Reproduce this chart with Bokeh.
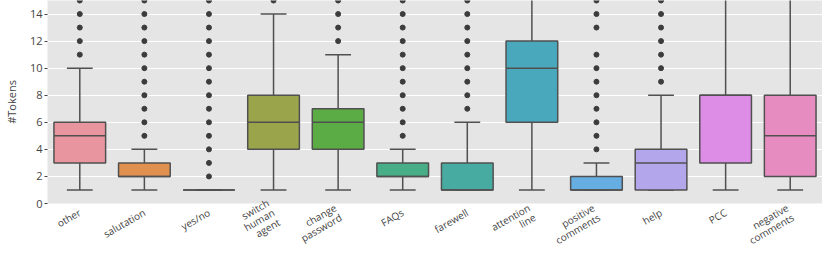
from bokeh.plotting import figure
from bokeh.models import ColumnDataSource, FactorRange, FixedTicker
from bokeh.transform import dodge
from bokeh.embed import file_html
from bokeh.resources import INLINE

categories = ["other", "salutation", "yes/no", "switch\nhuman\nagent", "change\npassword",
              "FAQs", "farewell", "attention\nline", "positive\ncomments", "help", "PCC",
              "negative\ncomments"]
lower_whisker = [1, 1, 1, 1, 1, 1, 1, 1, 1, 1, 1, 1]
q1 = [3, 2, 1, 4, 4, 2, 1, 6, 1, 1, 3, 2]
median = [5, 2, 1, 6, 6, 2, 1, 10, 1, 3, 8, 5]
q3 = [6, 3, 1, 8, 7, 3, 3, 12, 2, 4, 8, 8]
upper_whisker = [10, 4, 1, 14, 11, 4, 6, 17, 3, 8, 17, 17]
outliers = {
    "other": [11, 12, 13, 14, 15],
    "salutation": [5, 6, 7, 8, 9, 10, 11, 12, 13, 14, 15],
    "yes/no": [2, 3, 4, 5, 6, 7, 8, 9, 10, 11, 12, 13, 14, 15],
    "switch\nhuman\nagent": [15],
    "change\npassword": [12, 13, 14, 15],
    "FAQs": [5, 6, 7, 8, 9, 10, 11, 12, 13, 14, 15],
    "farewell": [7, 8, 9, 10, 11, 12, 13, 14, 15],
    "positive\ncomments": [4, 5, 6, 7, 8, 9, 10, 11, 13, 14, 15],
    "help": [9, 10, 11, 12, 13, 14, 15],
}
colors = ["#e8959f", "#e0904f", "#b9a04a", "#9aa44b", "#5cac45", "#48ae88", "#48aba2",
          "#4aa8bc", "#66ade2", "#b4a6ea", "#de8de6", "#e68cc0"]
y_ticks = [0, 2, 4, 6, 8, 10, 12, 14]

EDGE = "#505050"

p = figure(x_range=FactorRange(*categories, range_padding=0), y_range=(0, 15),
           width=822, height=262, output_backend="svg", toolbar_location=None,
           min_border_left=10, min_border_right=0, min_border_top=0, min_border_bottom=0)

src = ColumnDataSource(dict(cat=categories, lw=lower_whisker, q1=q1, med=median, q3=q3,
                            uw=upper_whisker, color=colors))

# whiskers
p.segment(x0="cat", x1="cat", y0="q3", y1="uw", source=src, line_color=EDGE, line_width=1.5)
p.segment(x0="cat", x1="cat", y0="q1", y1="lw", source=src, line_color=EDGE, line_width=1.5)
# caps
p.segment(x0=dodge("cat", -0.2, range=p.x_range), x1=dodge("cat", 0.2, range=p.x_range),
          y0="uw", y1="uw", source=src, line_color=EDGE, line_width=1.5)
p.segment(x0=dodge("cat", -0.2, range=p.x_range), x1=dodge("cat", 0.2, range=p.x_range),
          y0="lw", y1="lw", source=src, line_color=EDGE, line_width=1.5)
# boxes
p.vbar(x="cat", width=0.8, top="q3", bottom="q1", source=src, fill_color="color",
       line_color=EDGE, line_width=1.5)
# medians
p.segment(x0=dodge("cat", -0.4, range=p.x_range), x1=dodge("cat", 0.4, range=p.x_range),
          y0="med", y1="med", source=src, line_color=EDGE, line_width=1.5)

ox, oy = [], []
for c, vals in outliers.items():
    for v in vals:
        ox.append(c)
        oy.append(v)
p.scatter(x=ox, y=oy, size=5, fill_color="#3c3c3c", line_color="#3c3c3c")

p.background_fill_color = "#e5e5e5"
p.border_fill_color = "white"
p.outline_line_color = None
p.xgrid.grid_line_color = None
p.ygrid.grid_line_color = "white"
p.ygrid.grid_line_width = 1.2
p.yaxis.ticker = FixedTicker(ticks=y_ticks)
p.yaxis.axis_label = "#Tokens"
p.yaxis.axis_label_text_font = "Open Sans"
p.yaxis.axis_label_text_font_style = "normal"
p.yaxis.axis_label_text_font_size = "11px"
p.yaxis.axis_label_text_color = "#444444"
p.yaxis.axis_label_standoff = 8
p.axis.axis_line_color = None
p.yaxis.major_tick_line_color = "#444444"
p.yaxis.major_tick_in = 0
p.yaxis.major_tick_out = 3
p.yaxis.minor_tick_line_color = None
p.xaxis.major_tick_line_color = None
p.axis.major_label_text_font = "Open Sans"
p.axis.major_label_text_font_size = "11px"
p.axis.major_label_text_color = "#444444"
p.xaxis.major_label_text_font_size = "10px"
p.xaxis.major_label_text_line_height = 0.8
p.xaxis.major_label_orientation = 0.52
p.xaxis.major_label_standoff = 2
p.yaxis.major_label_standoff = 2

open("out.html", "w").write(file_html(p, INLINE))
